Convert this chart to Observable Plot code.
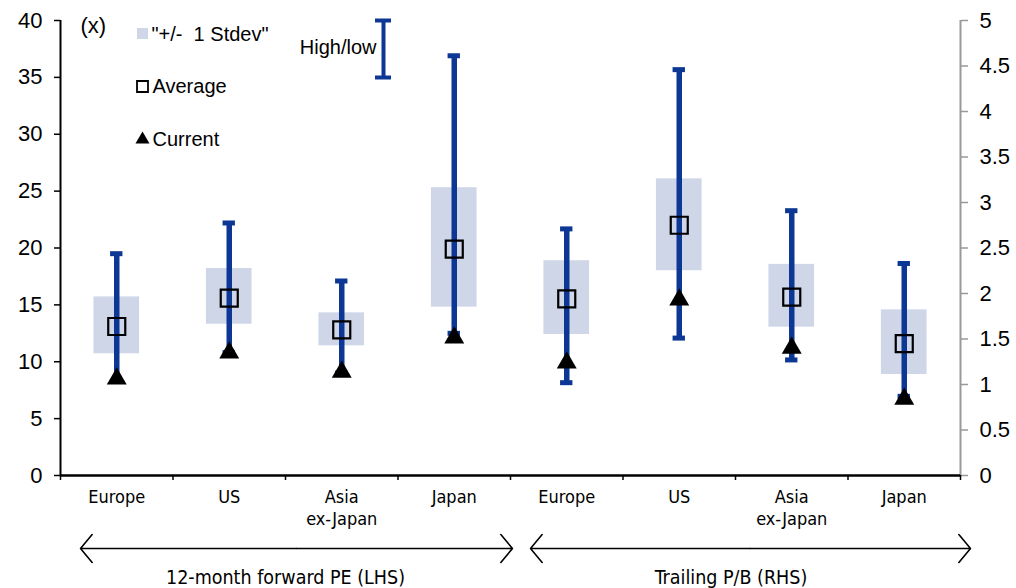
<!DOCTYPE html>
<html>
<head>
<meta charset="utf-8">
<script src="https://cdn.jsdelivr.net/npm/d3@7"></script>
<script src="https://cdn.jsdelivr.net/npm/@observablehq/plot@0.6"></script>
<style>
  html, body { margin: 0; padding: 0; background: #fff; }
  #chart svg { display: block; }
</style>
</head>
<body>
<div id="chart"></div>
<script>
// ---- data ----
const categories = ["Europe", "US", "Asia ex-Japan", "Japan", "Europe", "US", "Asia ex-Japan", "Japan"];
const categoryLabels = ["Europe", "US", "Asia\nex-Japan", "Japan", "Europe", "US", "Asia\nex-Japan", "Japan"];
const measures = ["PE", "PE", "PE", "PE", "PB", "PB", "PB", "PB"];
const high    = [19.5, 22.2, 17.1, 36.9, 2.71, 4.46, 2.91, 2.33];
const low     = [8.3, 10.8, 9.0, 12.5, 1.02, 1.51, 1.27, 0.87];
const sdUpper = [15.7, 18.2, 14.3, 25.3, 2.36, 3.26, 2.32, 1.82];
const sdLower = [10.7, 13.3, 11.4, 14.8, 1.55, 2.25, 1.63, 1.11];
const average = [13.1, 15.6, 12.8, 19.9, 1.94, 2.75, 1.96, 1.45];
const current = [8.5, 10.8, 9.1, 12.1, 1.24, 1.93, 1.40, 0.84];
const lhsTicks = [0, 5, 10, 15, 20, 25, 30, 35, 40];
const rhsTicks = [0, 0.5, 1, 1.5, 2, 2.5, 3, 3.5, 4, 4.5, 5];
const groupCaptions = ["12-month forward PE (LHS)", "Trailing P/B (RHS)"];

// ---- build table (RHS values rescaled onto LHS scale) ----
const RHS_FACTOR = 40 / 5;
const rows = categories.map((c, i) => {
  const k = measures[i] === "PB" ? RHS_FACTOR : 1;
  return {
    pos: i + 0.5, category: c, measure: measures[i],
    high: high[i] * k, low: low[i] * k,
    sdUpper: sdUpper[i] * k, sdLower: sdLower[i] * k,
    average: average[i] * k, current: current[i] * k
  };
});

// layout helpers (pixel -> data coords for annotations)
const ML = 60, MR = 56, MT = 20, MB = 113, W = 1016, H = 588;
const pxX = px => (px - ML) / ((W - ML - MR) / 8);
const pxY = py => (H - MB - py) / ((H - MB - MT) / 40);

const BLUE = "#0c3794";
const BOX = "#cfd6e8";
const NUM_FONT = "'Liberation Sans', Arial, sans-serif";
const CAT_FONT = "'Liberation Sans Narrow', 'DejaVu Sans Condensed', sans-serif";
const halfBox = 0.203, halfCap = 0.055;

const chart = Plot.plot({
  width: W, height: H,
  marginLeft: ML, marginRight: MR, marginTop: MT, marginBottom: MB,
  style: { fontFamily: NUM_FONT, background: "#fff", color: "#000" },
  x: { domain: [0, 8], axis: null },
  y: { domain: [0, 40], axis: null },
  marks: [
    // +/- 1 stdev boxes
    Plot.rect(rows, { x1: d => d.pos - halfBox, x2: d => d.pos + halfBox, y1: "sdLower", y2: "sdUpper", fill: BOX }),
    // high/low bars
    Plot.ruleX(rows, { x: "pos", y1: "low", y2: "high", stroke: BLUE, strokeWidth: 5.5 }),
    Plot.ruleY(rows, { y: "high", x1: d => d.pos - halfCap, x2: d => d.pos + halfCap, stroke: BLUE, strokeWidth: 5 }),
    Plot.ruleY(rows, { y: "low", x1: d => d.pos - halfCap, x2: d => d.pos + halfCap, stroke: BLUE, strokeWidth: 5 }),
    // average
    Plot.dot(rows, { x: "pos", y: "average", symbol: "square", r: 9.6, stroke: "#000", strokeWidth: 2.2, fill: "none" }),
    // current
    Plot.dot(rows, { x: "pos", y: "current", symbol: "triangle", r: 7.4, fill: "#000", stroke: "none" }),

    // left axis
    Plot.axisY({ anchor: "left", ticks: lhsTicks, tickSize: 6, tickPadding: 12, fontSize: 22, label: null, strokeWidth: 1.5 }),
    Plot.ruleX([0], { stroke: "#000", strokeWidth: 2 }),
    // right axis
    Plot.axisY({ anchor: "right", ticks: rhsTicks.map(v => v * RHS_FACTOR), tickFormat: d => String(+(d / RHS_FACTOR).toFixed(2)),
                 tickSize: 7, tickPadding: 12, fontSize: 22, label: null, stroke: "#999", strokeWidth: 1.5 }),
    Plot.ruleX([8], { stroke: "#999", strokeWidth: 2 }),
    // bottom axis
    Plot.axisX({ ticks: d3.range(0, 9), tickSize: 5, tickFormat: () => "", label: null, strokeWidth: 1.5 }),
    Plot.axisX({ ticks: rows.map(d => d.pos), tickSize: 0, tickPadding: 13, tickFormat: (d, i) => categoryLabels[i],
                 fontSize: 18, fontFamily: CAT_FONT, lineHeight: 1.17, label: null }),
    Plot.ruleY([0], { stroke: "#000", strokeWidth: 2.5 }),

    // group arrows
    Plot.arrow([[2.1, pxX(80)], [2.1, pxX(512)], [6.13, pxX(530)], [6.13, pxX(970)]], {
      x1: d => d[0], x2: d => d[1], y1: pxY(548), y2: pxY(548),
      stroke: "#000", strokeWidth: 1.6, headLength: 17, headAngle: 100
    }),
    Plot.text(groupCaptions, { x: (d, i) => [2.0, 5.96][i], y: pxY(577), text: d => d, fontSize: 19.5, fontFamily: CAT_FONT, fill: "#000" }),

    // "(x)" unit label
    Plot.text(["(x)"], { x: pxX(80), y: pxY(25), text: d => d, textAnchor: "start", fontSize: 22, fill: "#000" }),

    // legend
    Plot.rect([0], { x1: pxX(137), x2: pxX(148), y1: pxY(39), y2: pxY(28), fill: BOX }),
    Plot.text(["\"+/-\u00a0 1 Stdev\""], { x: pxX(151), y: pxY(34), text: d => d, textAnchor: "start", fontSize: 20, fill: "#000" }),
    Plot.text(["High/low"], { x: pxX(376), y: pxY(47), text: d => d, textAnchor: "end", fontSize: 20, fill: "#000" }),
    Plot.ruleX([0], { x: pxX(383), y1: pxY(77), y2: pxY(20), stroke: BLUE, strokeWidth: 4 }),
    Plot.ruleY([pxY(20), pxY(77)], { y: d => d, x1: pxX(375), x2: pxX(391), stroke: BLUE, strokeWidth: 4 }),
    Plot.dot([0], { x: pxX(142), y: pxY(86), symbol: "square", r: 6.2, stroke: "#000", strokeWidth: 1.8, fill: "none" }),
    Plot.text(["Average"], { x: pxX(152), y: pxY(86), text: d => d, textAnchor: "start", fontSize: 20, fill: "#000" }),
    Plot.dot([0], { x: pxX(142), y: pxY(139), symbol: "triangle", r: 5.2, fill: "#000", stroke: "none" }),
    Plot.text(["Current"], { x: pxX(152), y: pxY(139), text: d => d, textAnchor: "start", fontSize: 20, fill: "#000" })
  ]
});

document.getElementById("chart").appendChild(chart);
</script>
</body>
</html>
